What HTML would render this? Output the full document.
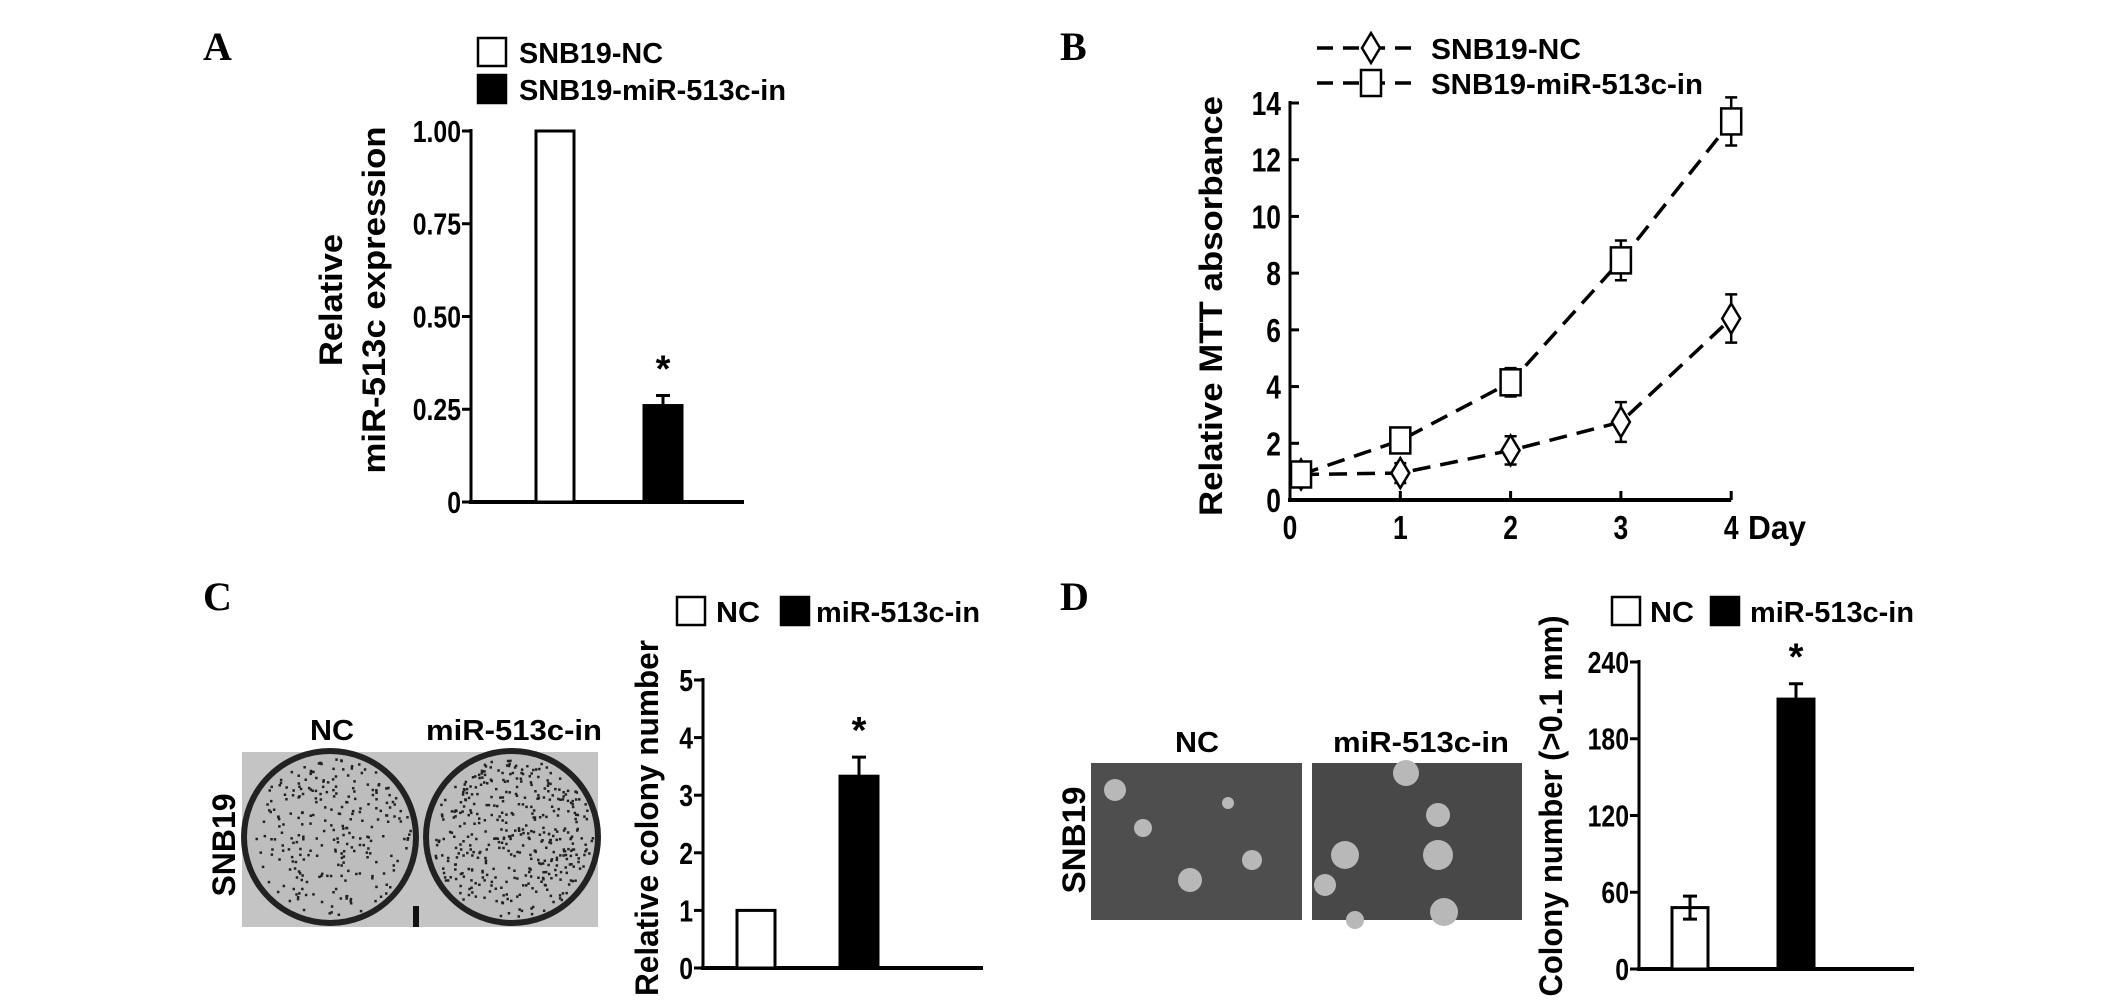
<!DOCTYPE html>
<html><head><meta charset="utf-8"><style>
html,body{margin:0;padding:0;background:#fff;}
svg{display:block;}
text{font-family:"Liberation Sans",Arial,sans-serif;font-weight:bold;fill:#000;}
.lt{font-family:"Liberation Serif",serif;font-weight:bold;font-size:40px;}
</style></head><body>
<svg id="fig" width="2126" height="1006" viewBox="0 0 2126 1006" xmlns="http://www.w3.org/2000/svg">
<rect width="2126" height="1006" fill="#fff"/>
<text class="lt" x="203" y="60">A</text>
<text class="lt" x="1060" y="60">B</text>
<text class="lt" x="203" y="610">C</text>
<text class="lt" x="1060" y="610">D</text>
<g id="gA"></g>
<g id="gB"></g>
<g id="gC"></g>
<g id="gD"></g>
<g id="photoC"></g>
<g id="photoD"></g>
</svg>
<script>
// Panel A data
const aCats = ["SNB19-NC", "SNB19-miR-513c-in"];
const aVals = [1.0, 0.26];
const aErr = [0, 0.027];
const aTicks = [0, 0.25, 0.5, 0.75, 1.0];
const aTickLabels = ["0", "0.25", "0.50", "0.75", "1.00"];
// Panel B data
const bDays = [0.1, 1, 2, 3, 4];
const bNC = [0.9, 0.95, 1.75, 2.75, 6.4];
const bNCErr = [0.2, 0.35, 0.5, 0.7, 0.85];
const bMiR = [0.9, 2.1, 4.15, 8.45, 13.35];
const bMiRErr = [0.2, 0.4, 0.5, 0.7, 0.85];
const bYTicks = [0, 2, 4, 6, 8, 10, 12, 14];
const bXTicks = [0, 1, 2, 3, 4];
// Panel C data
const cCats = ["NC", "miR-513c-in"];
const cVals = [1.0, 3.33];
const cErr = [0, 0.33];
const cTicks = [0, 1, 2, 3, 4, 5];
// Panel D data
const dCats = ["NC", "miR-513c-in"];
const dVals = [48, 211];
const dErr = [9, 12];
const dTicks = [0, 60, 120, 180, 240];

const NS = "http://www.w3.org/2000/svg";
function mk(parent, tag, attrs, txt) {
  const e = document.createElementNS(NS, tag);
  for (const k in attrs) e.setAttribute(k, attrs[k]);
  if (txt !== undefined) e.textContent = txt;
  parent.appendChild(e);
  return e;
}

function barChart(g, o) {
  const y = v => o.y0 - (v - o.min) / (o.max - o.min) * (o.y0 - o.y1);
  let l = mk(g, "line", {x1:o.ax, y1:o.y1-2, x2:o.ax, y2:o.y0+2, stroke:"#000","stroke-width":3});
  
  
  l = mk(g, "line", {x1:o.ax-2, y1:o.y0, x2:o.xEnd, y2:o.y0, stroke:"#000","stroke-width":4});
  
  
  o.ticks.forEach((t, i) => {
    const tk = mk(g, "line", {x1:o.ax-9, y1:y(t), x2:o.ax, y2:y(t), stroke:"#000","stroke-width":3});
    
    
    const tl = mk(g, "text", {x:o.ax-10, y:y(t)+11, "text-anchor":"end","font-size":31, transform:`translate(${o.ax-10},0) scale(0.8,1) translate(${-(o.ax-10)},0)`}, o.tickLabels ? o.tickLabels[i] : String(t));
    
    
  });
  o.vals.forEach((v, i) => {
    const x = o.barX[i];
    const r = mk(g, "rect", {x:x, y:y(v), width:o.bw, height:o.y0-y(v), fill:i ? "#000" : "#fff", stroke:"#000","stroke-width":3});
    
    
    if (o.err[i] > 0) {
      const cx = x + o.bw/2;
      const low = i ? y(v) : y(v - o.err[i]);
      const e = mk(g, "path", {d:`M${cx} ${low} V${y(v+o.err[i])} M${cx-7} ${y(v+o.err[i])} H${cx+7}` + (i ? "" : ` M${cx-7} ${y(v-o.err[i])} H${cx+7}`), stroke:"#000","stroke-width":3, fill:"none"});
      
      
    }
    if (o.star[i]) {
      const s = mk(g, "text", {x:x+o.bw/2, y:y(v+o.err[i])-14, "text-anchor":"middle","font-size":38}, "*");
      
      
    }
  });
  o.title.forEach((t, i) => {
    const te = mk(g, "text", {x:0, y:0, "text-anchor":"middle","font-size":32, textLength:t.len, lengthAdjust:"spacingAndGlyphs", transform:`translate(${t.x},${o.titleY}) rotate(-90)`}, t.s);
    
    
  });
}

function legendBox(g, x, y, fill, label, tx, tl) {
  const r = mk(g, "rect", {x:x, y:y, width:28, height:28, fill:fill, stroke:"#000","stroke-width":2.5});
  
  
  const t = mk(g, "text", {x:tx, y:y+25, "font-size":29, textLength:tl, lengthAdjust:"spacingAndGlyphs"}, label);
  
  
}

// Panel A
const gA = document.getElementById("gA");
legendBox(gA, 478, 38, "#fff", aCats[0], 519, 144);
legendBox(gA, 478, 75, "#000", aCats[1], 519, 267);
barChart(gA, {ax:471, y0:502, y1:131, min:0, max:1, xEnd:744, ticks:aTicks, tickLabels:aTickLabels,
  vals:aVals, err:aErr, cats:aCats, barX:[536, 644], bw:38, star:[false,true],
  title:[{s:"Relative", x:342, len:132},{s:"miR-513c expression", x:385, len:347}], titleY:300});

// Panel C
const gC = document.getElementById("gC");
legendBox(gC, 677, 597, "#fff", cCats[0], 716, 44);
legendBox(gC, 781, 597, "#000", cCats[1], 816, 164);
barChart(gC, {ax:703, y0:968, y1:680, min:0, max:5, xEnd:983, ticks:cTicks,
  vals:cVals, err:cErr, cats:cCats, barX:[737, 840], bw:38, star:[false,true],
  title:[{s:"Relative colony number", x:658, len:356}], titleY:818});

// Panel D
const gD = document.getElementById("gD");
legendBox(gD, 1612, 597, "#fff", dCats[0], 1650, 44);
legendBox(gD, 1711, 597, "#000", dCats[1], 1750, 164);
barChart(gD, {ax:1639, y0:969, y1:662, min:0, max:240, xEnd:1914, ticks:dTicks,
  vals:dVals, err:dErr, cats:dCats, barX:[1672, 1778], bw:36, star:[false,true],
  title:[{s:"Colony number (>0.1 mm)", x:1562, len:381}], titleY:806});

// Panel B line chart
const gB = document.getElementById("gB");
const bx = d => 1290 + d * 110.3;
const by = v => 500 - v * (397 / 14);
let ln = mk(gB, "line", {x1:1290, y1:by(14)-2, x2:1290, y2:502, stroke:"#000","stroke-width":3});


ln = mk(gB, "line", {x1:1288, y1:500, x2:bx(4), y2:500, stroke:"#000","stroke-width":4});


bYTicks.forEach(t => {
  const tk = mk(gB, "line", {x1:1290, y1:by(t), x2:1299, y2:by(t), stroke:"#000","stroke-width":3});
  
  
  const tl = mk(gB, "text", {x:1281, y:by(t)+12, "text-anchor":"end","font-size":33, transform:`translate(1281,0) scale(0.8,1) translate(-1281,0)`}, String(t));
  
  
});
bXTicks.forEach(t => {
  const tk = mk(gB, "line", {x1:bx(t), y1:491, x2:bx(t), y2:500, stroke:"#000","stroke-width":3});
  
  
  const tl = mk(gB, "text", {x:bx(t), y:539, "text-anchor":"middle","font-size":33, transform:`translate(${bx(t)},0) scale(0.8,1) translate(${-bx(t)},0)`}, String(t));
  
  
});
const dayT = mk(gB, "text", {x:1748, y:539, "font-size":33, textLength:58, lengthAdjust:"spacingAndGlyphs"}, "Day");


const bTitle = mk(gB, "text", {x:0, y:0, "text-anchor":"middle","font-size":32, textLength:420, lengthAdjust:"spacingAndGlyphs", transform:"translate(1222,306) rotate(-90)"}, "Relative MTT absorbance");



function marker(g, x, y, type) {
  let m;
  if (type === "d") m = mk(g, "path", {d:`M${x} ${y-15} L${x+9} ${y} L${x} ${y+15} L${x-9} ${y} Z`, fill:"#fff", stroke:"#000","stroke-width":2.5});
  else m = mk(g, "rect", {x:x-10, y:y-13, width:20, height:26, fill:"#fff", stroke:"#000","stroke-width":2.5});
  return m;
}
function series(vals, errs, type, name) {
  const pts = bDays.map((d, i) => `${bx(d)},${by(vals[i])}`).join(" ");
  const pl = mk(gB, "polyline", {points:pts, fill:"none", stroke:"#000","stroke-width":3.5,"stroke-dasharray":"18 10"});
  
  
  bDays.forEach((d, i) => {
    const x = bx(d), hi = by(vals[i] + errs[i]), lo = by(vals[i] - errs[i]);
    const e = mk(gB, "path", {d:`M${x} ${hi} V${lo} M${x-6} ${hi} H${x+6} M${x-6} ${lo} H${x+6}`, stroke:"#000","stroke-width":2.5, fill:"none"});
    
    
  });
  bDays.forEach((d, i) => {
    const m = marker(gB, bx(d), by(vals[i]), type);
    
    
  });
}
series(bNC, bNCErr, "d", "snb19-nc");
series(bMiR, bMiRErr, "s", "snb19-mir-513c-in");
// legend B
[["d","SNB19-NC",48,150],["s","SNB19-miR-513c-in",83,272]].forEach(([t, s, yy, tl]) => {
  const l = mk(gB, "line", {x1:1317, y1:yy, x2:1419, y2:yy, stroke:"#000","stroke-width":3.5,"stroke-dasharray":"16 10"});
  
  
  const m = marker(gB, 1371, yy, t);
  
  
  const tx = mk(gB, "text", {x:1431, y:yy+11, "font-size":29, textLength:tl, lengthAdjust:"spacingAndGlyphs"}, s);
  
  
});

// Photo C (texture only)
const pC = document.getElementById("photoC");
mk(pC, "rect", {x:242, y:752, width:356, height:175, fill:"#c4c4c4"});
let seed = 7;
function rnd() { seed = (seed * 16807) % 2147483647; return seed / 2147483647; }
[[330, 837], [512, 837]].forEach(([cx, cy], k) => {
  mk(pC, "ellipse", {cx:cx, cy:cy, rx:86, ry:86, fill:"#bdbdbd", stroke:"#222","stroke-width":6});
  const n = k ? 420 : 260;
  let dots = "";
  for (let i = 0; i < n; i++) {
    const a = rnd() * Math.PI * 2, r = Math.sqrt(rnd()) * 80;
    dots += `M${(cx + r*Math.cos(a)).toFixed(1)} ${(cy + r*Math.sin(a)).toFixed(1)}h2.5v2.5h-2.5z`;
  }
  mk(pC, "path", {d:dots, fill:"#222"});
});
mk(pC, "rect", {x:413, y:906, width:6, height:21, fill:"#111"});
let t1 = mk(pC, "text", {x:332, y:740, "text-anchor":"middle","font-size":29, textLength:44, lengthAdjust:"spacingAndGlyphs"}, "NC");


t1 = mk(pC, "text", {x:426, y:740, "font-size":29, textLength:176, lengthAdjust:"spacingAndGlyphs"}, "miR-513c-in");


t1 = mk(pC, "text", {x:0, y:0, "text-anchor":"middle","font-size":32, textLength:103, lengthAdjust:"spacingAndGlyphs", transform:"translate(235,845) rotate(-90)"}, "SNB19");



// Photo D (texture only)
const pD = document.getElementById("photoD");
mk(pD, "rect", {x:1091, y:763, width:211, height:157, fill:"#4e4e4e"});
mk(pD, "rect", {x:1312, y:763, width:210, height:157, fill:"#484848"});
[[1115,790,11],[1143,828,9],[1228,803,6],[1190,880,12],[1252,860,10],[1406,773,13],[1438,815,12],[1345,855,14],[1325,885,11],[1438,855,15],[1444,912,14],[1355,920,9]].forEach(([x,y,r]) => {
  mk(pD, "circle", {cx:x, cy:y, r:r, fill:"#b8b8b8"});
});
t1 = mk(pD, "text", {x:1197, y:752, "text-anchor":"middle","font-size":29, textLength:44, lengthAdjust:"spacingAndGlyphs"}, "NC");


t1 = mk(pD, "text", {x:1421, y:752, "text-anchor":"middle","font-size":29, textLength:176, lengthAdjust:"spacingAndGlyphs"}, "miR-513c-in");


t1 = mk(pD, "text", {x:0, y:0, "text-anchor":"middle","font-size":32, textLength:107, lengthAdjust:"spacingAndGlyphs", transform:"translate(1085,840) rotate(-90)"}, "SNB19");


</script>
</body></html>
